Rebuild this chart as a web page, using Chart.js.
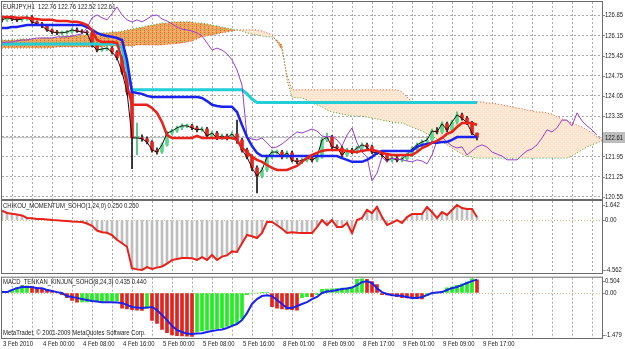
<!DOCTYPE html>
<html lang="en">
<head>
<meta charset="UTF-8">
<title>EURJPY,H1</title>
<script src="https://cdn.jsdelivr.net/npm/chart.js"></script>
<style>
  html, body { margin: 0; padding: 0; background: #fff; }
  #wrap { position: relative; width: 625px; height: 349px; overflow: hidden; background: #fff; }
  #wrap canvas { position: absolute; left: 0; }
</style>
</head>
<body>
<div id="wrap">
  <canvas id="main" style="top:0" width="625" height="200"></canvas>
  <canvas id="mom" style="top:200px" width="625" height="75"></canvas>
  <canvas id="macd" style="top:275px" width="625" height="74"></canvas>
</div>
<script>
// ---- data (one entry per H1 bar, bar 0 = 3 Feb 16:00) ----
const opens = [
  126.72, 126.69, 126.76, 126.72, 126.69, 126.72, 126.79, 126.62, 126.55, 126.48,
  126.34, 126.27, 126.24, 126.24, 126.27, 126.34, 126.30, 126.27, 126.24, 125.82,
  125.64, 125.68, 125.71, 125.57, 125.37, 124.88, 124.19, 122.59, 122.59, 122.56,
  122.45, 122.17, 122.10, 122.35, 122.76, 122.83, 122.94, 123.01, 123.01, 122.94,
  122.87, 122.90, 122.66, 122.76, 122.59, 122.66, 122.59, 122.73, 122.52, 122.17,
  121.93, 121.55, 121.27, 121.48, 121.93, 122.10, 122.10, 121.93, 122.07, 121.82,
  121.76, 121.82, 121.90, 121.82, 121.93, 122.52, 122.62, 122.28, 122.24, 122.00,
  122.17, 122.10, 122.24, 122.35, 122.28, 122.10, 122.07, 122.00, 121.82, 121.89,
  121.82, 121.86, 122.00, 122.21, 122.35, 122.45, 122.52, 122.83, 122.80, 123.08,
  122.87, 123.14, 123.39, 123.28, 123.11, 122.76
];
const highs = [
  126.80, 126.83, 126.82, 126.78, 126.79, 126.86, 126.84, 126.66, 126.60, 126.52,
  126.38, 126.33, 126.30, 126.33, 126.40, 126.41, 126.35, 126.32, 126.30, 125.88,
  125.74, 125.78, 125.76, 125.62, 125.42, 124.94, 124.25, 123.11, 122.70, 122.62,
  122.50, 122.25, 122.42, 122.82, 122.90, 123.00, 123.08, 123.07, 123.06, 123.00,
  122.98, 122.96, 122.83, 122.82, 122.73, 122.72, 122.80, 123.21, 122.58, 122.24,
  122.00, 121.62, 121.56, 122.00, 122.17, 122.17, 122.16, 122.14, 122.13, 121.88,
  121.89, 121.97, 121.96, 122.00, 122.60, 122.76, 122.68, 122.35, 122.30, 122.24,
  122.23, 122.30, 122.42, 122.41, 122.34, 122.16, 122.13, 122.06, 121.96, 121.95,
  121.93, 122.07, 122.28, 122.42, 122.52, 122.59, 122.90, 122.95, 123.15, 123.14,
  123.21, 123.50, 123.45, 123.34, 123.17, 122.76
];
const lows = [
  126.62, 126.64, 126.66, 126.63, 126.64, 126.67, 126.57, 126.49, 126.42, 126.29,
  126.21, 126.18, 126.17, 126.19, 126.22, 126.25, 126.21, 126.18, 125.75, 125.58,
  125.59, 125.62, 125.51, 125.30, 124.80, 124.10, 121.52, 122.00, 122.48, 122.38,
  122.10, 122.03, 122.05, 122.30, 122.70, 122.78, 122.88, 122.95, 122.88, 122.80,
  122.82, 122.60, 122.60, 122.53, 122.53, 122.52, 122.54, 122.40, 122.10, 121.86,
  121.45, 120.68, 121.20, 121.42, 121.87, 122.03, 121.86, 121.87, 121.76, 121.70,
  121.70, 121.76, 121.76, 121.76, 121.88, 122.46, 122.22, 122.18, 121.93, 121.94,
  122.04, 122.05, 122.18, 122.22, 122.04, 122.01, 121.94, 121.76, 121.76, 121.76,
  121.76, 121.80, 121.94, 122.15, 122.29, 122.39, 122.46, 122.73, 122.74, 122.80,
  122.81, 123.08, 123.21, 123.05, 122.70, 122.52
];
const closes = [
  126.69, 126.76, 126.72, 126.69, 126.72, 126.79, 126.62, 126.55, 126.48, 126.34,
  126.27, 126.24, 126.24, 126.27, 126.34, 126.30, 126.27, 126.24, 125.82, 125.64,
  125.68, 125.71, 125.57, 125.37, 124.88, 124.19, 122.59, 122.59, 122.56, 122.45,
  122.17, 122.10, 122.35, 122.76, 122.83, 122.94, 123.01, 123.01, 122.94, 122.87,
  122.90, 122.66, 122.76, 122.59, 122.66, 122.59, 122.73, 122.52, 122.17, 121.93,
  121.55, 121.27, 121.48, 121.93, 122.10, 122.10, 121.93, 122.07, 121.82, 121.76,
  121.82, 121.90, 121.82, 121.93, 122.52, 122.62, 122.28, 122.24, 122.00, 122.17,
  122.10, 122.24, 122.35, 122.28, 122.10, 122.07, 122.00, 121.82, 121.89, 121.82,
  121.86, 122.00, 122.21, 122.35, 122.45, 122.52, 122.83, 122.80, 123.08, 122.87,
  123.14, 123.39, 123.28, 123.11, 122.76, 122.61
];
const tenkan = [
  126.79, 126.79, 126.79, 126.76, 126.76, 126.76, 126.72, 126.72, 126.69, 126.69,
  126.69, 126.65, 126.65, 126.65, 126.62, 126.62, 126.58, 126.51, 126.34, 125.99,
  125.92, 125.92, 125.92, 125.89, 125.30, 124.43, 123.74, 123.74, 123.74, 123.74,
  123.63, 123.46, 123.14, 122.69, 122.59, 122.59, 122.59, 122.59, 122.59, 122.66,
  122.59, 122.59, 122.59, 122.59, 122.59, 122.59, 122.59, 122.52, 122.24, 122.10,
  121.93, 121.83, 121.76, 121.65, 121.55, 121.48, 121.48, 121.48, 121.55, 121.62,
  121.76, 121.89, 122.00, 122.07, 122.14, 122.17, 122.17, 122.17, 122.17, 122.14,
  122.10, 122.10, 122.14, 122.17, 122.17, 122.14, 122.07, 122.03, 122.00, 122.00,
  122.00, 122.00, 122.00, 122.10, 122.24, 122.31, 122.42, 122.49, 122.59, 122.73,
  122.80, 122.97, 123.11, 123.11, 123.11, 123.04
];
const kijun = [
  126.41, 126.41, 126.44, 126.44, 126.48, 126.51, 126.51, 126.51, 126.51, 126.51,
  126.51, 126.51, 126.51, 126.51, 126.51, 126.51, 126.51, 126.44, 126.34, 126.24,
  126.17, 126.13, 126.10, 126.06, 125.99, 125.30, 124.19, 124.15, 124.12, 124.05,
  124.01, 124.01, 124.01, 124.01, 124.01, 124.01, 124.01, 124.01, 124.01, 124.01,
  123.98, 123.87, 123.74, 123.70, 123.67, 123.67, 123.67, 123.49, 123.04, 122.62,
  122.31, 122.07, 121.96, 121.96, 121.96, 121.96, 121.96, 121.96, 121.96, 121.96,
  121.96, 121.96, 121.96, 121.96, 121.96, 121.96, 121.96, 121.96, 121.89, 121.83,
  121.76, 121.76, 121.76, 121.83, 121.93, 122.07, 122.14, 122.14, 122.14, 122.14,
  122.14, 122.14, 122.14, 122.28, 122.35, 122.38, 122.42, 122.42, 122.45, 122.45,
  122.52, 122.62, 122.62, 122.62, 122.62, 122.62
];
const cyanLine = [
  125.85, 125.85, 125.85, 125.85, 125.85, 125.85, 125.85, 125.85, 125.85, 125.85,
  125.85, 125.85, 125.85, 125.85, 125.85, 125.85, 125.85, 125.85, 125.85, 125.85,
  125.85, 125.85, 125.85, 125.85, 125.71, 124.95, 124.26, 124.26, 124.26, 124.26,
  124.26, 124.26, 124.26, 124.26, 124.26, 124.26, 124.26, 124.26, 124.26, 124.26,
  124.26, 124.26, 124.26, 124.26, 124.26, 124.26, 124.26, 124.26, 124.26, 124.12,
  123.94, 123.82, 123.82, 123.82, 123.82, 123.82, 123.82, 123.82, 123.82, 123.82,
  123.82, 123.82, 123.82, 123.82, 123.82, 123.82, 123.82, 123.82, 123.82, 123.82,
  123.82, 123.82, 123.82, 123.82, 123.82, 123.82, 123.82, 123.82, 123.82, 123.82,
  123.82, 123.82, 123.82, 123.82, 123.82, 123.82, 123.82, 123.82, 123.82, 123.82,
  123.82, 123.82, 123.82, 123.82, 123.82, 123.82
];
const chikou = [
  125.89, 125.92, 125.92, 125.96, 125.99, 125.99, 126.03, 126.06, 126.06, 126.06,
  126.06, 126.10, 126.10, 126.10, 126.13, 126.17, 126.20, 126.41, 126.76, 126.86,
  126.76, 126.69, 126.90, 127.14, 126.86, 126.69, 126.62, 126.69, 126.62, 126.72,
  126.83, 126.86, 126.72, 126.65, 126.55, 126.44, 126.37, 126.34, 126.30, 126.24,
  126.13, 125.89, 125.64, 125.71, 125.64, 125.51, 125.30, 124.95, 124.43, 122.62,
  122.55, 122.52, 122.59, 122.42, 122.24, 122.28, 122.38, 122.52, 122.66, 122.80,
  122.76, 122.83, 122.90, 122.83, 122.66, 122.62, 122.66, 122.52, 122.31, 122.69,
  122.94, 122.42, 122.10, 121.93, 121.10, 121.37, 121.93, 121.76, 121.89, 121.86,
  121.83, 121.79, 121.76, 121.83, 121.79, 121.69, 122.00, 122.49, 122.62, 122.45,
  122.31, 122.24, 122.28, 122.00, 122.14, 122.28, 122.35, 122.28, 122.10, 122.03,
  121.96, 121.83, 121.83, 121.83, 122.00, 122.14, 122.21, 122.35, 122.59, 122.87,
  122.80, 122.94, 123.21, 123.21, 123.01, 123.46, 123.18, 123.01, 122.87, 122.69
];
const spanA = [
  125.71, 125.71, 125.71, 125.71, 125.71, 125.71, 125.71, 125.71, 125.71, 125.71,
  125.71, 125.75, 125.75, 125.75, 125.75, 125.75, 125.75, 125.75, 125.75, 125.75,
  125.75, 125.78, 125.78, 125.78, 125.78, 125.78, 125.78, 125.82, 125.82, 125.82,
  125.82, 125.82, 125.82, 125.84, 125.85, 125.87, 125.89, 125.92, 125.96, 126.03,
  126.10, 126.13, 126.17, 126.20, 126.24, 126.27, 126.30, 126.34, 126.34, 126.34,
  126.34, 126.34, 126.30, 126.24, 126.17, 125.92, 125.64, 124.78, 124.26, 124.26,
  124.26, 124.26, 124.26, 124.26, 124.26, 124.26, 124.26, 124.26, 124.26, 124.26,
  124.26, 124.26, 124.26, 124.26, 124.26, 124.26, 124.26, 124.26, 124.26, 124.26,
  124.19, 124.01, 123.84, 123.84, 123.84, 123.84, 123.84, 123.84, 123.84, 123.84,
  123.84, 123.84, 123.84, 123.84, 123.84, 123.84, 123.84, 123.80, 123.80, 123.77,
  123.74, 123.70, 123.67, 123.63, 123.60, 123.56, 123.53, 123.49, 123.49, 123.46,
  123.42, 123.32, 123.25, 123.18, 123.11, 123.04, 122.97, 122.87, 122.76, 122.62,
  122.52
];
const spanB = [
  125.99, 125.99, 125.99, 126.01, 126.03, 126.03, 126.03, 126.03, 126.06, 126.06,
  126.06, 126.06, 126.10, 126.13, 126.13, 126.13, 126.17, 126.17, 126.20, 126.20,
  126.24, 126.24, 126.27, 126.27, 126.30, 126.34, 126.37, 126.41, 126.44, 126.48,
  126.51, 126.55, 126.58, 126.58, 126.62, 126.62, 126.62, 126.62, 126.62, 126.58,
  126.58, 126.55, 126.51, 126.48, 126.44, 126.41, 126.37, 126.34, 126.30, 126.24,
  126.20, 126.17, 126.13, 126.10, 126.10, 125.99, 125.82, 124.60, 124.01, 123.98,
  123.98, 123.91, 123.80, 123.74, 123.67, 123.56, 123.49, 123.46, 123.42, 123.39,
  123.35, 123.35, 123.35, 123.32, 123.28, 123.25, 123.21, 123.18, 123.14, 123.11,
  123.11, 123.04, 122.97, 122.90, 122.83, 122.73, 122.66, 122.55, 122.45, 122.35,
  122.24, 122.14, 122.03, 121.96, 121.93, 121.89, 121.89, 121.89, 121.89, 121.89,
  121.89, 121.89, 121.89, 121.89, 121.89, 121.89, 121.89, 121.89, 121.89, 121.89,
  121.89, 121.89, 121.89, 121.89, 121.96, 122.07, 122.17, 122.28, 122.35, 122.42,
  122.49
];
const momentum = [
   0.80,  0.61,  0.55,  0.47,  0.40,  0.18,  0.15,  0.10,  0.09,  0.05,
   0.00, -0.02, -0.05, -0.08, -0.12, -0.15, -0.17, -0.30, -0.50, -0.90,
  -1.05, -1.10, -1.30, -1.70, -2.00, -2.30, -4.15, -4.25, -4.30, -4.05,
  -4.22, -4.10, -4.00, -3.75, -3.45, -3.35, -3.28, -3.27, -3.30, -3.44,
  -3.20, -3.44, -3.01, -3.44, -3.15, -3.05, -2.70, -2.75, -2.00, -1.29,
  -1.40, -1.55, -1.10, -0.17, -0.17, -0.45, -0.75, -1.12, -1.05, -1.10,
  -1.12, -1.12, -1.12, -0.60,  0.00, -0.43,  0.00, -0.60, -0.60, -0.25,
  -1.12,  0.00,  0.18,  0.87,  0.60,  1.13,  0.26, -0.43, -0.25,  0.00,
  -0.25,  0.26,  0.52,  0.52,  0.52,  1.13,  0.69,  0.18,  0.69,  0.44,
   0.87,  1.30,  1.04,  0.95,  0.95,  0.25
];
const macdHist = [
   0.02,  0.01,  0.08,  0.18,  0.23,  0.24,  0.20,  0.18,  0.15,  0.12,
   0.08,  0.03, -0.05, -0.15, -0.24, -0.30, -0.29, -0.29, -0.28, -0.28,
  -0.27, -0.27, -0.26, -0.26, -0.50, -0.52, -0.55, -0.56, -0.57, -0.50,
  -0.90, -1.00, -1.20, -1.30, -1.38, -1.40, -1.41, -1.42, -1.43, -1.28,
  -1.25, -1.22, -1.20, -1.17, -1.14, -1.10, -1.05, -0.98, -0.85, -0.05,
   0.00,  0.00,  0.02,  0.02, -0.45, -0.50, -0.52, -0.54, -0.55, -0.56,
  -0.15, -0.12, -0.13, -0.05,  0.12,  0.13,  0.14,  0.15,  0.16,  0.17,
   0.17,  0.45,  0.47,  0.45,  0.38,  0.28, -0.05, -0.06, -0.07, -0.12,
  -0.15, -0.16, -0.17, -0.18, -0.19, -0.08, -0.02,  0.00,  0.03,  0.17,
   0.20,  0.25,  0.30,  0.36,  0.47,  0.435
];
const macdSignal = [
   0.03,  0.03,  0.10,  0.16,  0.20,  0.20,  0.20,  0.16,  0.16,  0.10,
   0.07,  0.03,  0.00, -0.10, -0.13, -0.16, -0.20, -0.23, -0.26, -0.28,
  -0.30, -0.30, -0.30, -0.31, -0.33, -0.39, -0.46, -0.48, -0.49, -0.48,
  -0.46, -0.56, -0.72, -0.89, -1.08, -1.22, -1.28, -1.33, -1.35, -1.33,
  -1.32, -1.28, -1.25, -1.22, -1.20, -1.15, -1.08, -1.02, -0.89, -0.66,
  -0.36, -0.20, -0.10, -0.07, -0.10, -0.23, -0.36, -0.49, -0.49, -0.43,
  -0.36, -0.30, -0.20, -0.13,  0.00,  0.05,  0.07,  0.10,  0.13,  0.15,
   0.18,  0.26,  0.36,  0.39,  0.33,  0.16,  0.03, -0.03, -0.07, -0.08,
  -0.10, -0.13, -0.16, -0.16, -0.13, -0.07,  0.00,  0.02,  0.03,  0.10,
   0.16,  0.20,  0.26,  0.33,  0.39,  0.44
];
const priceTicks = [120.55, 121.25, 121.95, 122.65, 123.35, 124.05, 124.75, 125.45, 126.15, 126.85];
const timeLabels = ['3 Feb 2010', '4 Feb 00:00', '4 Feb 08:00', '4 Feb 16:00', '5 Feb 00:00',
  '5 Feb 08:00', '5 Feb 16:00', '8 Feb 01:00', '8 Feb 09:00', '8 Feb 17:00',
  '9 Feb 01:00', '9 Feb 09:00', '9 Feb 17:00'];
const momRange = [-4.562, 1.642];
const macdRange = [-1.479, 0.504];

// ---- helpers ----
const BARS = 120;      // visible bar slots
const LABEL_EVERY = 8; // bars between time labels
const GRID_EVERY = 4;

const pts = arr => arr.map((v, i) => ({ x: i, y: v }));
const gridTicks = [];
for (let b = GRID_EVERY; b < BARS; b += GRID_EVERY) gridTicks.push({ value: b });

const FONT = '8px "Liberation Sans", Arial, sans-serif';
function txt(ctx, s, x, y, align) {
  ctx.save();
  ctx.font = FONT;
  ctx.fillStyle = '#1a1a1a';
  ctx.textBaseline = 'middle';
  ctx.translate(x, y);
  ctx.scale(0.74, 1);
  ctx.textAlign = align || 'left';
  ctx.fillText(s, 0, 0);
  ctx.restore();
}
function frame(chart) {
  const { ctx, chartArea: a } = chart;
  ctx.save();
  ctx.strokeStyle = '#6c6c6c';
  ctx.lineWidth = 1;
  ctx.strokeRect(a.left - 0.5, a.top - 0.5, a.right - a.left + 1, a.bottom - a.top + 1);
  ctx.restore();
}
function sideLabel(chart, s, y) {
  const { ctx, chartArea: a } = chart;
  ctx.save();
  ctx.strokeStyle = '#888';
  ctx.beginPath(); ctx.moveTo(a.right + 1, Math.round(y) + 0.5); ctx.lineTo(a.right + 3, Math.round(y) + 0.5); ctx.stroke();
  ctx.restore();
  txt(ctx, s, a.right + 3, y);
}
function xScale() {
  return {
    type: 'linear', min: 0, max: BARS, offset: false,
    grid: { color: '#a9a9a9', lineWidth: 1, drawTicks: false },
    border: { display: false, dash: [2, 2] },
    ticks: { display: false },
    afterBuildTicks: s => { s.ticks = gridTicks.slice(); },
    afterFit: s => { s.height = 0; }
  };
}
function makePattern(canvas, base, dots) {
  const c = document.createElement('canvas');
  c.width = 4; c.height = 4;
  const g = c.getContext('2d');
  g.fillStyle = base; g.fillRect(0, 0, 4, 4);
  dots.forEach(d => { g.fillStyle = d[2]; g.fillRect(d[0], d[1], 1, 1); });
  return canvas.getContext('2d').createPattern(c, 'repeat');
}

const common = {
  responsive: false, animation: false, devicePixelRatio: 1,
  plugins: { legend: { display: false }, tooltip: { enabled: false } },
  elements: { point: { radius: 0 }, line: { tension: 0 } }
};

// ---- main price pane ----
const mainCanvas = document.getElementById('main');
const orangeFill = makePattern(mainCanvas, '#f4a65e',
  [[0, 0, '#e0632e'], [0, 2, '#e0632e'], [2, 1, '#86bf55'], [2, 3, '#f0c080']]);
const peachFill = makePattern(mainCanvas, '#fee4cc', [[1, 1, '#fff8f0'], [3, 3, '#fff8f0']]);
const last = closes.length - 1;
const bull = i => closes[i] >= opens[i];

new Chart(mainCanvas, {
  type: 'line',
  data: {
    datasets: [
      { data: pts(tenkan), borderColor: '#e8211b', borderWidth: 2.5 },
      { data: pts(kijun), borderColor: '#1a22ee', borderWidth: 2.5 },
      { data: pts(chikou), borderColor: '#9b3fcb', borderWidth: 1 },
      { data: pts(cyanLine), borderColor: '#22cfd6', borderWidth: 3 },
      { data: pts(closes), borderColor: '#111', borderWidth: 1 },
      { type: 'bar', grouped: false, barThickness: 3, minBarLength: 1, borderWidth: 0,
        data: closes.map((c, i) => ({ x: i, y: [Math.min(opens[i], c), Math.max(opens[i], c)] })),
        backgroundColor: ctx => bull(ctx.dataIndex) ? '#55d98a' : '#e3231d' },
      { type: 'bar', grouped: false, barThickness: 1, borderWidth: 0,
        data: closes.map((c, i) => ({ x: i, y: [lows[i], highs[i]] })),
        backgroundColor: ctx => bull(ctx.dataIndex) ? '#3fc070' : '#151515' },
      { data: pts(spanB), borderColor: '#3fae3f', borderWidth: 1, borderDash: [1, 2] },
      { data: pts(spanA), borderColor: '#f0502c', borderWidth: 1, borderDash: [1, 2],
        fill: { target: 7, above: peachFill, below: orangeFill } }
    ]
  },
  options: Object.assign({}, common, {
    layout: { padding: { left: 2, right: 0, top: 2, bottom: 1 } },
    scales: {
      x: xScale(),
      y: {
        position: 'right', min: 120.47, max: 127.31,
        grid: { color: '#a9a9a9', lineWidth: 1, drawTicks: false },
        border: { display: false, dash: [2, 2] },
        ticks: { display: false },
        afterBuildTicks: s => { s.ticks = priceTicks.map(v => ({ value: v })); },
        afterFit: s => { s.width = 23; }
      }
    }
  }),
  plugins: [{
    id: 'deco',
    beforeDatasetsDraw(chart) {
      const { ctx, chartArea: a, scales } = chart;
      const y = Math.round(scales.y.getPixelForValue(closes[last])) + 0.5;
      ctx.save();
      ctx.strokeStyle = '#c4c4c4';
      ctx.beginPath(); ctx.moveTo(a.left, y); ctx.lineTo(a.right, y); ctx.stroke();
      ctx.restore();
    },
    afterDraw(chart) {
      const { ctx, chartArea: a, scales } = chart;
      frame(chart);
      priceTicks.forEach(v => {
        if (Math.abs(v - closes[last]) < 0.2) return;
        sideLabel(chart, v.toFixed(2), scales.y.getPixelForValue(v));
      });
      const y = scales.y.getPixelForValue(closes[last]);
      ctx.save();
      ctx.fillStyle = '#bdbdbd';
      ctx.fillRect(a.right + 1, Math.round(y) - 5, 24, 11);
      ctx.restore();
      txt(ctx, closes[last].toFixed(2), a.right + 3, y + 0.5);
      txt(ctx, 'EURJPY,H1  ' + [opens[last], highs[last], lows[last], closes[last]].map(v => v.toFixed(2)).join(' '), 3, 7);
    }
  }]
});

// ---- chikou momentum pane ----
new Chart(document.getElementById('mom'), {
  type: 'line',
  data: {
    datasets: [
      { data: pts(momentum), borderColor: '#e8211b', borderWidth: 2 },
      { type: 'bar', grouped: false, barThickness: 2, borderWidth: 0,
        data: pts(momentum), backgroundColor: '#bebebe' }
    ]
  },
  options: Object.assign({}, common, {
    layout: { padding: { left: 2, right: 0, top: 1, bottom: 2 } },
    scales: {
      x: xScale(),
      y: {
        position: 'right', min: momRange[0], max: momRange[1],
        grid: { color: '#d8b48c', lineWidth: 1, drawTicks: false },
        border: { display: false, dash: [1, 2] },
        ticks: { display: false },
        afterBuildTicks: s => { s.ticks = [{ value: 0 }]; },
        afterFit: s => { s.width = 23; }
      }
    }
  }),
  plugins: [{
    id: 'deco2',
    afterDraw(chart) {
      const { ctx, chartArea: a, scales } = chart;
      frame(chart);
      sideLabel(chart, momRange[1].toFixed(3), a.top + 3.5);
      sideLabel(chart, '0.00', scales.y.getPixelForValue(0));
      sideLabel(chart, momRange[0].toFixed(3), a.bottom - 3.5);
      const v = momentum[momentum.length - 1].toFixed(3);
      txt(ctx, 'CHIKOU_MOMENTUM_SOHO(1,24,0) ' + v + ' ' + v, 3, 6);
    }
  }]
});

// ---- MACD tenkan/kijun pane ----
new Chart(document.getElementById('macd'), {
  type: 'line',
  data: {
    datasets: [
      { data: pts(macdSignal), borderColor: '#1a22ee', borderWidth: 2 },
      { type: 'bar', grouped: false, barThickness: 3, borderWidth: 0,
        data: pts(macdHist),
        backgroundColor: ctx => {
          const i = ctx.dataIndex;
          return (i === 0 || macdHist[i] >= macdHist[i - 1]) ? '#1fef1f' : '#e3231d';
        } }
    ]
  },
  options: Object.assign({}, common, {
    layout: { padding: { left: 2, right: 0, top: 2.7, bottom: 11 } },
    scales: {
      x: xScale(),
      y: {
        position: 'right', min: macdRange[0], max: macdRange[1],
        grid: { color: '#d8b48c', lineWidth: 1, drawTicks: false },
        border: { display: false, dash: [1, 2] },
        ticks: { display: false },
        afterBuildTicks: s => { s.ticks = [{ value: 0 }]; },
        afterFit: s => { s.width = 23; }
      }
    }
  }),
  plugins: [{
    id: 'deco3',
    afterDraw(chart) {
      const { ctx, chartArea: a, scales } = chart;
      frame(chart);
      sideLabel(chart, macdRange[1].toFixed(3), a.top + 3);
      sideLabel(chart, '0.00', scales.y.getPixelForValue(0));
      sideLabel(chart, macdRange[0].toFixed(3), a.bottom - 3.5);
      txt(ctx, 'MACD_TENKAN_KINJUN_SOHO(8,24,3) ' + macdHist[macdHist.length - 1].toFixed(3) + ' ' +
        macdSignal[macdSignal.length - 1].toFixed(3), 3, 7);
      txt(ctx, 'MetaTrader, \u00a9 2001-2009 MetaQuotes Software Corp.', 3, 58);
      timeLabels.forEach((s, k) => {
        const x = k === 0 ? a.left + 1 : scales.x.getPixelForValue(k * LABEL_EVERY) + 1;
        txt(ctx, s, x, a.bottom + 6);
      });
    }
  }]
});
</script>
</body>
</html>
